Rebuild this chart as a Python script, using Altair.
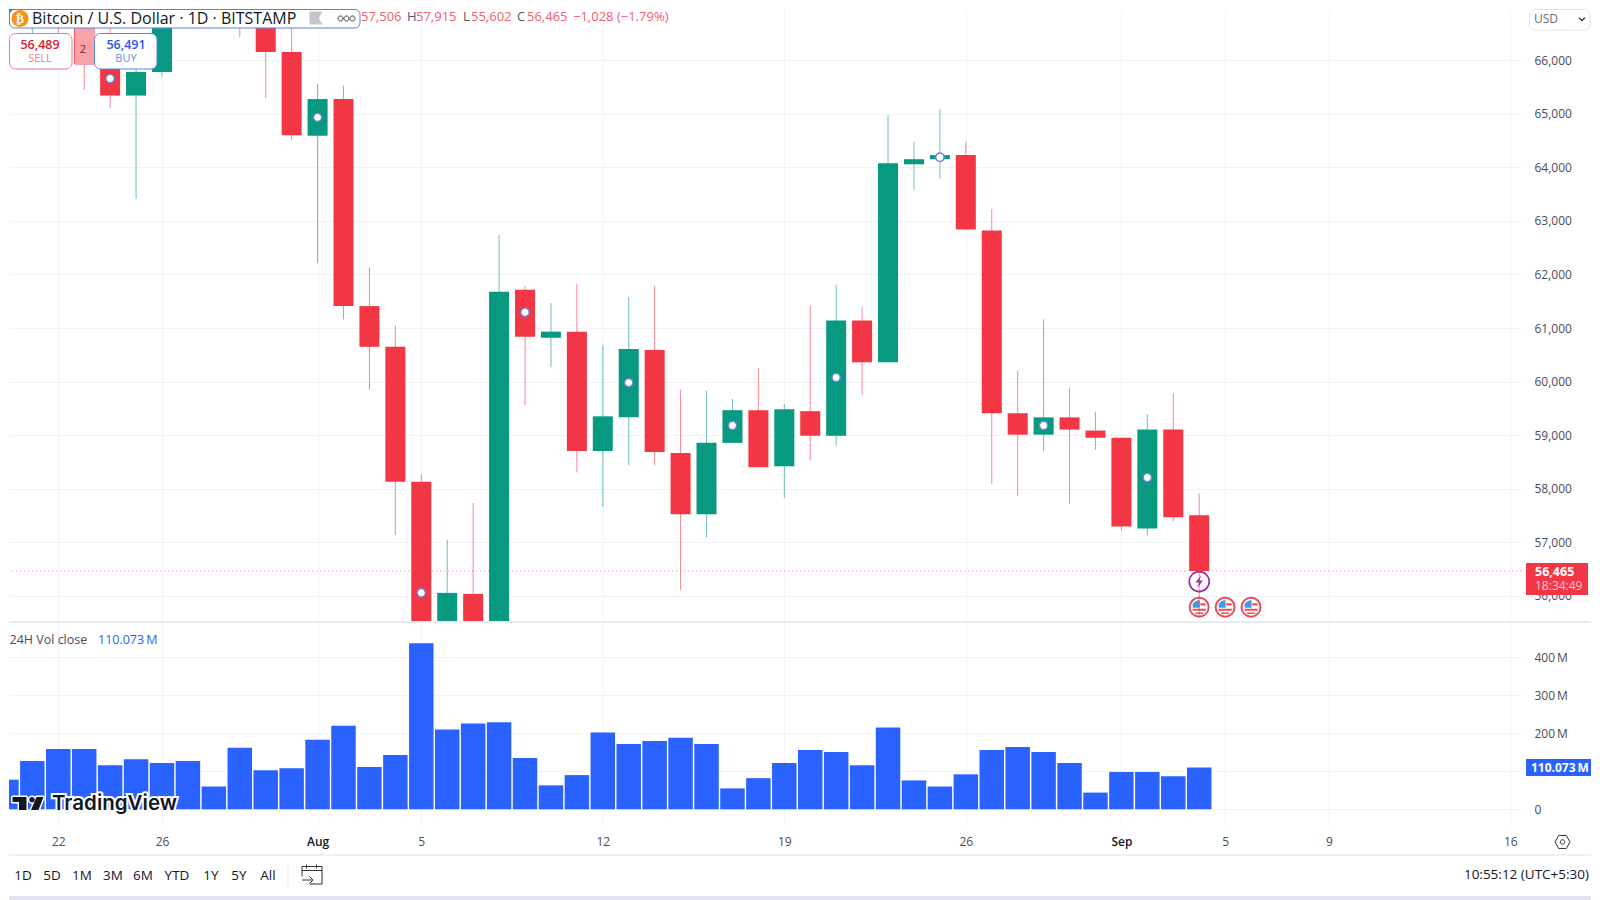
import altair as alt
import pandas as pd

# ---------- data ----------
dates = pd.date_range("2024-07-20", "2024-09-04").strftime("%Y-%m-%d").tolist()
opens = [66670, 67150, 68150, 67550, 65930, 65340, 65782, 67900, 67800, 68250, 66810, 66152,
         64590, 65276, 61410, 60650, 58133, 53950, 56038, 55100, 61714, 60819, 60933, 58705,
         59333, 60590, 58667, 57524, 58857, 59467, 58419, 59448, 58990, 61143, 60362, 64057,
         64152, 64229, 62819, 59410, 59010, 59333, 59086, 58952, 57257, 59105, 57506]
highs = [67700, 68300, 68450, 67800, 67100, 66100, 68200, 69400, 68300, 70000, 66900, 66600,
         65555, 65524, 62133, 61048, 58267, 57048, 57733, 62743, 61790, 61467, 61829, 60686,
         61581, 61790, 59848, 59829, 59676, 60248, 59581, 61410, 61810, 61390, 64971, 64476,
         65086, 64476, 63219, 60210, 61162, 59886, 59429, 58952, 59390, 59790, 57915]
lows = [66320, 65818, 66500, 65444, 65110, 63410, 65690, 66800, 66750, 66435, 65295, 64510,
        62210, 61160, 59850, 57143, 49000, 53700, 54500, 54700, 59562, 60267, 58305, 57657,
        58438, 58438, 56114, 57086, 58857, 58400, 57829, 58533, 58800, 59752, 60362, 63581,
        63790, 62838, 58095, 57867, 58705, 57714, 58724, 57219, 57124, 57390, 55602]
closes = [67150, 68150, 67550, 65930, 65340, 65782, 67900, 67800, 68250, 66810, 66152, 64600,
          65275, 61410, 60650, 58133, 53950, 56057, 55100, 61676, 60838, 60933, 58705, 59352,
          60610, 58686, 57524, 58857, 59467, 58400, 59486, 58990, 61143, 60362, 64076, 64152,
          64229, 62838, 59410, 59010, 59333, 59105, 58952, 57295, 59105, 57467, 56465]
volumes = [78, 127, 159, 159, 116, 132, 122, 127, 60, 162, 103, 108, 183, 220, 111, 143, 437,
           210, 226, 229, 135, 63, 90, 202, 172, 180, 188, 172, 55, 82, 122, 156, 151, 116, 215,
           76, 60, 92, 156, 164, 151, 122, 44, 98, 98, 87, 110.073]

marker_dates = ["2024-07-24", "2024-08-01", "2024-08-05", "2024-08-09", "2024-08-13",
                "2024-08-17", "2024-08-21", "2024-08-25", "2024-08-29", "2024-09-02"]
marker_prices = [65657, 64933, 56057, 61295, 59981, 59181, 60076, 64190, 59181, 58210]
flag_dates = ["2024-09-04", "2024-09-05", "2024-09-06"]
flag_price = 55790
bolt_date = "2024-09-04"
bolt_price = 56267
last_price = 56465

tick_dates = ["2024-07-22", "2024-07-26", "2024-08-01", "2024-08-05", "2024-08-12", "2024-08-19",
              "2024-08-26", "2024-09-01", "2024-09-05", "2024-09-09", "2024-09-16"]
tick_labels = ["22", "26", "Aug", "5", "12", "19", "26", "Sep", "5", "9", "16"]
price_ticks = list(range(56000, 67000, 1000))
vol_ticks = [0, 100, 200, 300, 400]
range_labels = ["1D", "5D", "1M", "3M", "6M", "YTD", "1Y", "5Y", "All"]
range_x = [23, 52, 82, 113, 143, 177, 211, 239, 268]

# ---------- tables ----------
BASE = pd.Timestamp("2024-07-22")
def day(s):
    return (pd.Timestamp(s) - BASE).days

df = pd.DataFrame({"date": dates, "open": opens, "high": highs, "low": lows, "close": closes, "vol": volumes})
df["day"] = [day(d) for d in dates]
df["dir"] = ["up" if c >= o else "down" for o, c in zip(opens, closes)]
df["body_l"] = df["day"] - 0.386
df["body_r"] = df["day"] + 0.386
df["vol_l"] = df["day"] - 0.472
df["vol_r"] = df["day"] + 0.472
markers = pd.DataFrame({"day": [day(d) for d in marker_dates], "price": marker_prices})
flags = pd.DataFrame({"day": [day(d) for d in flag_dates], "price": [flag_price] * len(flag_dates)})
bolt = pd.DataFrame({"day": [day(bolt_date)], "price": [bolt_price]})
ONE = pd.DataFrame({"k": [0]})

# ---------- style ----------
FONT = "Open Sans"
RED, GREEN, BLUE = "#f23645", "#089981", "#2962ff"
GRID = "#f2f3f7"
INK = "#4a4d57"
dir_scale = alt.Scale(domain=["up", "down"], range=[GREEN, RED])

PANEL_W = 1512
MAIN_H = 613
VOL_H = 203
X0, Y0 = 9, 9          # page position of the main panel (8px margin + 1px of rule stroke)
Y1 = Y0 + MAIN_H       # page position of the volume panel
RIGHT = 1591           # last page column the chart may use

tick_days = [day(d) for d in tick_dates]
label_map = "{" + ",".join(f"'{d}':'{l}'" for d, l in zip(tick_days, tick_labels)) + "}"
x_scale = alt.Scale(domain=[-1.90, 56.41], nice=False, zero=False, clamp=True, padding=0)
x_axis_main = alt.Axis(values=tick_days, labels=False, ticks=False, domain=False, grid=True, gridColor=GRID)
x_vol = alt.X("vol_l:Q", scale=x_scale, title=None,
              axis=alt.Axis(values=tick_days, ticks=False, domain=False, grid=True, gridColor=GRID,
                            labelExpr=f"{label_map}[datum.value]", labelFont=FONT, labelFontSize=12,
                            labelPadding=11, labelColor=alt.expr("datum.value==10||datum.value==41?'#131722':'#4a4d57'"),
                            labelFontWeight=alt.expr("datum.value==10||datum.value==41?600:400"),
                            labelOverlap=False))
price_scale = alt.Scale(domain=[55513, 66956], nice=False, zero=False, clamp=True)
y_axis_price = alt.Axis(orient="right", values=price_ticks, labelExpr="format(datum.value, ',')", ticks=False,
                        domain=False, grid=True, gridColor=GRID, labelFont=FONT, labelFontSize=12, labelColor=INK,
                        labelPadding=13, labelOverlap=False)
vol_scale = alt.Scale(domain=[-41.3, 492.9], nice=False, zero=False)


def xm(field):
    return alt.X(field, scale=x_scale, axis=x_axis_main, title=None)


def ym(field):
    return alt.Y(field, scale=price_scale, axis=y_axis_price, title=None)


def txt(px, py, s, ox, oy, size=12, color=INK, align="left", weight="normal", font=FONT, **kw):
    return alt.Chart(ONE).mark_text(text=s, fontSize=size, color=color, align=align, baseline="middle",
                                    fontWeight=weight, font=font, **kw).encode(
        x=alt.value(px - ox), y=alt.value(py - oy))


def box(x0, y0, x1, y1, ox, oy, fill="white", stroke=None, radius=0, width=1, opacity=1):
    kw = {"stroke": stroke, "strokeWidth": width} if stroke else {"strokeWidth": 0}
    return alt.Chart(ONE).mark_rect(fill=fill, cornerRadius=radius, opacity=opacity, **kw).encode(
        x=alt.value(x0 - ox), x2=alt.value(x1 - ox), y=alt.value(y0 - oy), y2=alt.value(y1 - oy))


def icon(px, py, path, span, ox, oy, fill=None, stroke=None, width=1):
    kw = ({"filled": True, "fill": fill, "strokeWidth": 0} if fill
          else {"filled": False, "stroke": stroke, "strokeWidth": width, "strokeJoin": "round"})
    return alt.Chart(ONE).mark_point(shape=path, size=span * span, opacity=1, **kw).encode(
        x=alt.value(px - ox), y=alt.value(py - oy))


def price_icon(data, path, span, **kw):
    return alt.Chart(data).mark_point(shape=path, size=span * span, opacity=1, **kw).encode(
        x=xm("day:Q"), y=ym("price:Q"))


# ---------- main panel ----------
FLAG_BLUE = "M-0.68,0.05 L-0.68,-0.3 Q-0.45,-0.7 0.05,-0.72 L0.05,0.05 Z"
FLAG_RED = "M0.12,-0.4 H0.68 V-0.18 H0.12 Z M-0.7,0.16 H0.7 V0.38 H-0.7 Z M-0.42,0.55 H0.42 V0.72 H-0.42 Z"
BOLT = "M0.2,-0.62 L-0.38,0.1 L-0.02,0.1 L-0.2,0.62 L0.38,-0.1 L0.02,-0.1 Z"
CIRCLE = "M-1,0 A1,1 0 1 1 1,0 A1,1 0 1 1 -1,0 Z"

price_line = alt.Chart(ONE).mark_rule(color=RED, strokeDash=[1, 3], strokeWidth=1, opacity=0.6).encode(
    y=alt.datum(last_price, scale=price_scale, axis=y_axis_price, title=None))
flag_base = price_icon(flags, CIRCLE, 19, filled=True, fill="white", stroke="#ea4c55", strokeWidth=2)
flag_blue = price_icon(flags, FLAG_BLUE, 19, filled=True, fill="#3f9be8", strokeWidth=0)
flag_red = price_icon(flags, FLAG_RED, 19, filled=True, fill="#e8505a", strokeWidth=0)
bolt_base = price_icon(bolt, CIRCLE, 20, filled=True, fill="white", stroke="#9c27b0", strokeWidth=1.6)
bolt_mark = price_icon(bolt, BOLT, 20, filled=True, fill="#9c27b0", strokeWidth=0)

wicks = alt.Chart(df).transform_filter("datum.day > -1.9").mark_rule(strokeWidth=1, opacity=0.6).encode(
    x=xm("day:Q"), y=ym("low:Q"), y2="high:Q",
    color=alt.Color("dir:N", scale=dir_scale, legend=None))
bodies = alt.Chart(df).mark_bar(orient="vertical", strokeWidth=0).encode(
    x=xm("body_l:Q"), x2="body_r:Q", y=ym("open:Q"), y2="close:Q",
    color=alt.Color("dir:N", scale=dir_scale, legend=None))
rings = alt.Chart(markers).mark_point(filled=True, fill="white", stroke="#6b84d8", strokeWidth=1.4, size=70, opacity=1).encode(
    x=xm("day:Q"), y=ym("price:Q"))

ox, oy = X0, Y0
main_chrome = [
    box(75, 28, 95, 65, ox, oy, fill="#f9a3a9"),
    txt(83, 50, "2", ox, oy, size=11, color="#5b2a30", align="center"),
    box(9.5, 33.5, 72, 69, ox, oy, stroke="#eb7c86", radius=6),
    txt(40, 44.5, "56,489", ox, oy, size=12.5, color="#d9202f", align="center", weight=600),
    txt(40, 59, "SELL", ox, oy, size=11, color="#ef7d87", align="center"),
    box(94.5, 33.5, 157, 69, ox, oy, stroke="#5b7fe8", radius=6),
    txt(126, 44.5, "56,491", ox, oy, size=12.5, color="#2f55e8", align="center", weight=600),
    txt(126, 59, "BUY", ox, oy, size=11, color="#6f8cec", align="center"),
    txt(361, 17, "57,506", ox, oy, size=13, color="#f0606d"),
    txt(407, 17, "H", ox, oy, size=13, color="#555862"),
    txt(416, 17, "57,915", ox, oy, size=13, color="#f0606d"),
    txt(463, 17, "L", ox, oy, size=13, color="#555862"),
    txt(471, 17, "55,602", ox, oy, size=13, color="#f0606d"),
    txt(517, 17, "C", ox, oy, size=13, color="#555862"),
    txt(527, 17, "56,465", ox, oy, size=13, color="#f0606d"),
    txt(573, 17, "\u22121,028 (\u22121.79%)", ox, oy, size=13, color="#f0606d"),
    box(9.5, 9.5, 360, 28, ox, oy, stroke="#5b7fe8", radius=5),
    icon(20, 18.5, CIRCLE, 17, ox, oy, fill="#f7931a"),
    txt(20, 19, "\u20bf", ox, oy, size=12, color="white", align="center", weight="bold", font="DejaVu Sans"),
    txt(32, 18.5, "Bitcoin / U.S. Dollar \u00b7 1D \u00b7 BITSTAMP", ox, oy, size=16, color="#131722"),
    icon(316, 18, "M-1,-1 H1 L0.45,0 L1,1 H-1 Z", 13, ox, oy, fill="#c3c6ce"),
    icon(340.5, 18.5, CIRCLE, 5, ox, oy, stroke="#333", width=1),
    icon(346.5, 18.5, CIRCLE, 5, ox, oy, stroke="#333", width=1),
    icon(352.5, 18.5, CIRCLE, 5, ox, oy, stroke="#333", width=1),
    box(1529.5, 9.5, RIGHT - 1, 30, ox, oy, stroke="#e0e3eb", radius=6),
    txt(1534, 19, "USD", ox, oy, size=12, color="#6a6d78"),
    icon(1582, 19, "M-1,-0.4 L0,0.5 L1,-0.4", 6, ox, oy, stroke="#333", width=1.3),
    box(1526, 563, 1588, 595, ox, oy, fill="#f23645"),
    txt(1535, 571.5, "56,465", ox, oy, size=12.5, color="white", weight="bold"),
    txt(1535, 586, "18:34:49", ox, oy, size=12, color="#fbc6cb"),
    box(X0, 621, RIGHT, 623, ox, oy, fill="#e9ebf0"),
]

main = alt.layer(price_line, flag_base, flag_blue, flag_red, bolt_base, bolt_mark,
                 wicks, bodies, rings, *main_chrome).properties(width=PANEL_W, height=MAIN_H)

# ---------- volume panel ----------
ox, oy = X0, Y1
LOGO = ("M-1,-0.42 H-0.097 V0.42 H-0.58 V-0.097 H-1 Z "
        "M0.08,-0.24 A0.18,0.18 0 1 1 0.44,-0.24 A0.18,0.18 0 1 1 0.08,-0.24 Z "
        "M0.548,-0.42 H1 L0.677,0.42 H0.194 Z")
CAL = ("M-0.2,0.95 H1 V-0.8 H-1 V0.2 M-1,-0.4 H1 M-0.55,-1 V-0.6 M0.45,-1 V-0.6 "
       "M-1,0.55 H0.1 M-0.25,0.2 L0.1,0.55 L-0.25,0.9")
HEX = "M-1,0 L-0.5,-0.87 L0.5,-0.87 L1,0 L0.5,0.87 L-0.5,0.87 Z"

vol_bars = alt.Chart(df).mark_bar(color=BLUE, orient="vertical").encode(
    x=x_vol, x2="vol_r:Q",
    y=alt.Y("vol:Q", scale=vol_scale, title=None,
            axis=alt.Axis(orient="right", values=vol_ticks, ticks=False, domain=False, grid=True, gridColor=GRID,
                          labelFont=FONT, labelFontSize=12, labelColor=INK, labelPadding=13,
                          labelExpr="datum.value==0?'0':datum.value==100?'':datum.value+'\u2009M'")))
range_text = [txt(x, 876, s, ox, oy, size=13.5, color="#131722", align="center") for x, s in zip(range_x, range_labels)]
vol_chrome = [
    txt(9.5, 640, "24H Vol close", ox, oy, size=12.5, color="#4a4d57"),
    txt(98, 640, "110.073\u2009M", ox, oy, size=12.5, color=BLUE),
    icon(28, 803.5, LOGO, 31, ox, oy, stroke="white", width=3),
    icon(28, 803.5, LOGO, 31, ox, oy, fill="#131722"),
    txt(52, 804, "TradingView", ox, oy, size=20.5, color="white", weight=600, font="Inter", stroke="white", strokeWidth=4),
    txt(52, 804, "TradingView", ox, oy, size=20.5, color="#131722", weight=600, font="Inter"),
    box(1526, 759, RIGHT, 776, ox, oy, fill=BLUE),
    txt(1531, 767.5, "110.073\u2009M", ox, oy, size=12, color="white", weight="bold"),
    icon(1562.5, 842, HEX, 15, ox, oy, stroke="#333", width=1),
    icon(1562.5, 842, CIRCLE, 4.5, ox, oy, stroke="#333", width=1),
    box(X0, 854.5, RIGHT, 855.5, ox, oy, fill="#e0e3eb"),
    box(287.5, 866, 288.5, 886, ox, oy, fill="#e6e8ee"),
    icon(312, 874.5, CAL, 20, ox, oy, stroke="#333", width=1),
    txt(1589, 875, "10:55:12 (UTC+5:30)", ox, oy, size=13.5, color="#131722", align="right"),
    box(X0, 896, RIGHT, 900, ox, oy, fill="#e2e4f0"),
]
volume = alt.layer(vol_bars, *range_text, *vol_chrome).properties(width=PANEL_W, height=VOL_H)

chart = alt.vconcat(main, volume, spacing=0, bounds="flush").properties(
    padding={"left": 0, "top": 0, "right": 0, "bottom": 0}).configure_view(
    stroke=None).resolve_scale(x="independent", y="independent", color="independent")

chart.save("out.html", embed_options={"renderer": "svg", "actions": False})
